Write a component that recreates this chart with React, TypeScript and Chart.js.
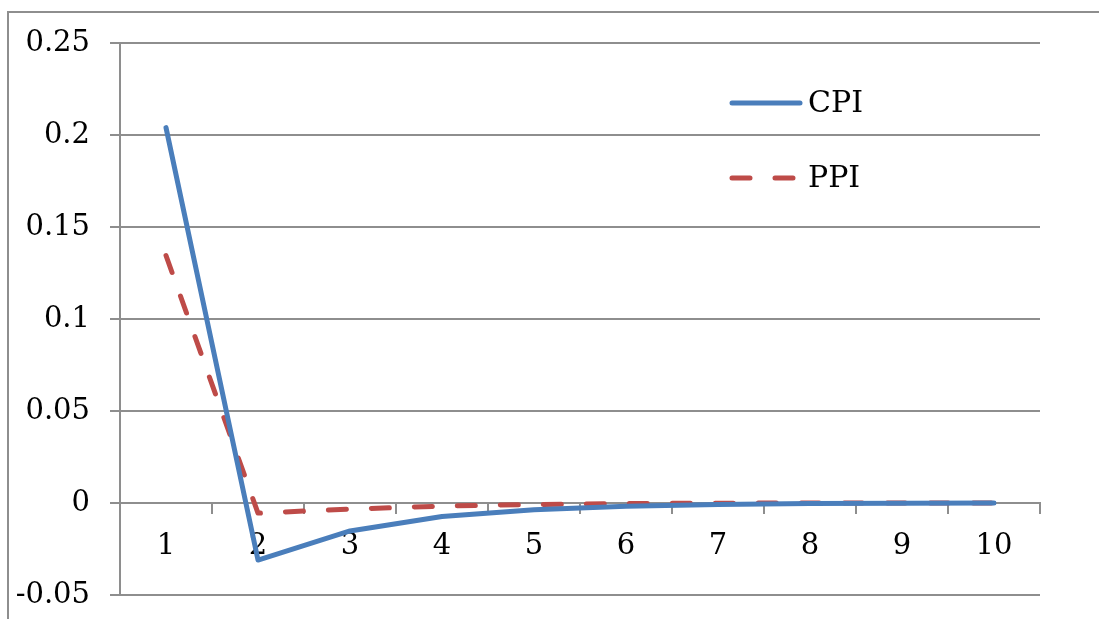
import React, { useEffect, useRef } from "react";
import { Chart, registerables } from "chart.js";

Chart.register(...registerables);

const categories = ["1", "2", "3", "4", "5", "6", "7", "8", "9", "10"];
const cpiValues = [0.204, -0.031, -0.0152, -0.0073, -0.0037, -0.0017, -0.0008, -0.0003, -0.0001, 0];
const ppiValues = [0.1345, -0.0055, -0.0033, -0.0017, -0.0008, -0.0003, -0.0001, 0, 0, 0];
const yTickValues = [-0.05, 0, 0.05, 0.1, 0.15, 0.2, 0.25];
const yTickLabels = ["-0.05", "0", "0.05", "0.1", "0.15", "0.2", "0.25"];

const GRID = "#8e8e8e";
const FONT = "'DejaVu Serif', 'Liberation Serif', serif";

const framePlugin = {
  id: "frame",
  beforeDraw(chart: any) {
    const ctx = chart.ctx;
    ctx.save();
    ctx.fillStyle = "#ffffff";
    ctx.fillRect(0, 0, chart.width, chart.height);
    ctx.strokeStyle = GRID;
    ctx.lineWidth = 2;
    ctx.beginPath();
    ctx.moveTo(8, chart.height);
    ctx.lineTo(8, 12);
    ctx.lineTo(chart.width, 12);
    ctx.stroke();
    ctx.restore();
  },
};

const legendY = [103, 178];
const legendPlugin = {
  id: "insideLegend",
  afterDraw(chart: any) {
    const ctx = chart.ctx;
    chart.data.datasets.forEach((ds: any, i: number) => {
      const y = legendY[i];
      ctx.save();
      ctx.strokeStyle = ds.borderColor;
      ctx.lineWidth = ds.borderWidth;
      ctx.lineCap = "round";
      ctx.setLineDash(ds.borderDash || []);
      ctx.beginPath();
      ctx.moveTo(732, y);
      ctx.lineTo(800, y);
      ctx.stroke();
      ctx.setLineDash([]);
      ctx.fillStyle = "#000";
      ctx.font = `30px ${FONT}`;
      ctx.textBaseline = "middle";
      ctx.textAlign = "left";
      ctx.fillText(ds.label, 808, y + 1);
      ctx.restore();
    });
  },
};

export default function App() {
  const ref = useRef<HTMLCanvasElement>(null);
  useEffect(() => {
    const chart = new Chart(ref.current as HTMLCanvasElement, {
      type: "line",
      data: {
        labels: categories,
        datasets: [
          {
            label: "CPI",
            data: cpiValues,
            borderColor: "#4a7ebb",
            borderWidth: 5,
            pointRadius: 0,
            tension: 0,
            borderCapStyle: "round",
            borderJoinStyle: "round",
          },
          {
            label: "PPI",
            data: ppiValues,
            borderColor: "#be4b48",
            borderWidth: 5,
            borderDash: [18, 25],
            pointRadius: 0,
            tension: 0,
            borderCapStyle: "round",
            borderJoinStyle: "round",
          },
        ],
      },
      options: {
        animation: false,
        responsive: false,
        layout: { padding: { left: 0, top: 43, right: 59, bottom: 24 } },
        plugins: { legend: { display: false }, tooltip: { enabled: false } },
        scales: {
          y: {
            position: "left",
            min: -0.05,
            max: 0.25,
            afterFit(scale: any) {
              scale.width = 120;
              scale.paddingTop = 0;
              scale.paddingBottom = 0;
            },
            afterBuildTicks(scale: any) {
              scale.ticks = yTickValues.map((v) => ({ value: v }));
            },
            ticks: {
              padding: 20,
              color: "#000",
              font: { family: FONT, size: 29 },
              callback: (_v: any, i: number) => yTickLabels[i],
            },
            grid: { color: GRID, lineWidth: 2, tickLength: 10, drawTicks: true },
            border: { display: true, color: GRID, width: 2 },
          },
          x: {
            position: { y: 0 } as any,
            offset: true,
            afterFit(scale: any) {
              scale.height = 0;
              scale.paddingLeft = 0;
              scale.paddingRight = 0;
            },
            ticks: {
              padding: 16,
              color: "#000",
              font: { family: FONT, size: 29 },
              maxRotation: 0,
              autoSkip: false,
            },
            grid: {
              offset: true,
              drawOnChartArea: false,
              drawTicks: true,
              tickLength: 10,
              color: GRID,
              lineWidth: 2,
            },
            border: { display: true, color: GRID, width: 2 },
          },
        },
      },
      plugins: [framePlugin, legendPlugin],
    });
    return () => chart.destroy();
  }, []);
  return (
    <div style={{ position: "fixed", left: 0, top: 0, width: 1099, height: 619, background: "#fff" }}>
      <canvas ref={ref} width={1099} height={619} style={{ display: "block" }} />
    </div>
  );
}
